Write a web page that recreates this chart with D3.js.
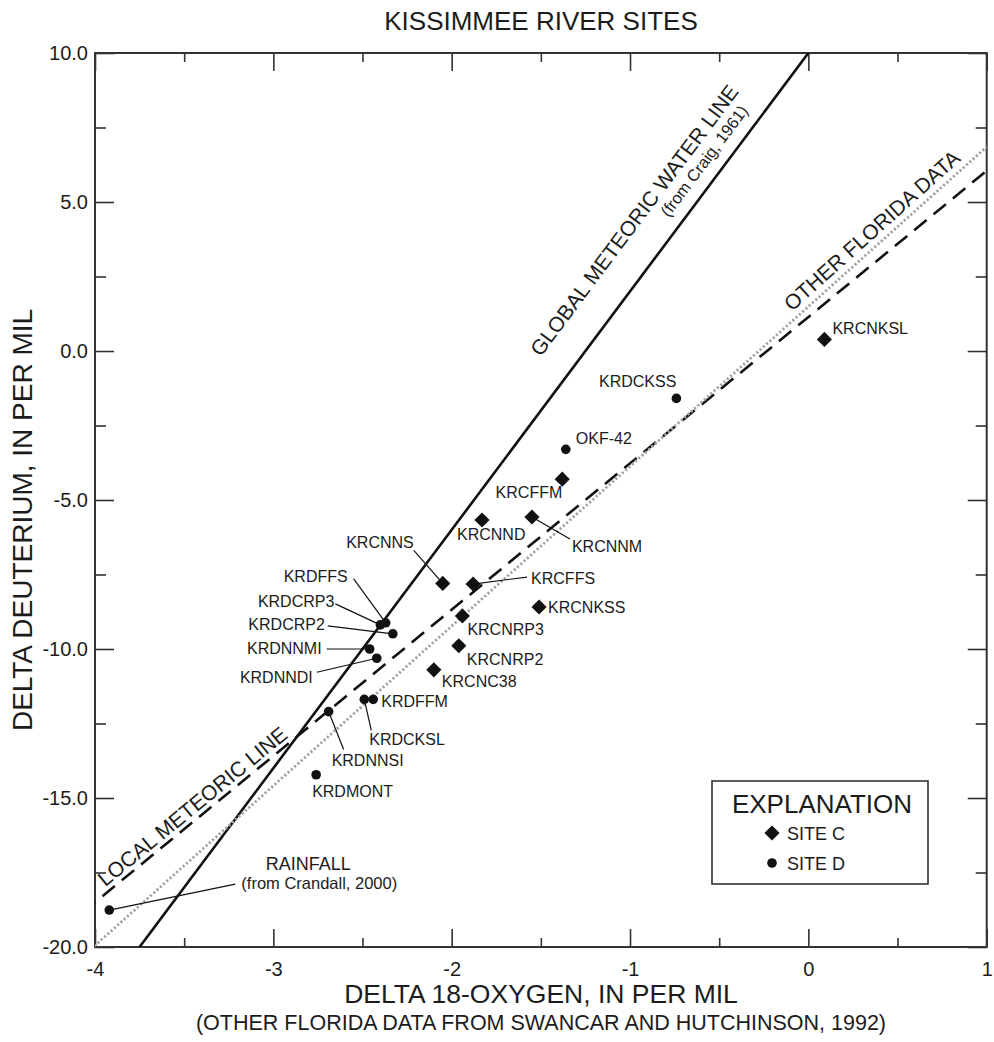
<!DOCTYPE html>
<html><head><meta charset="utf-8">
<script src="https://cdn.jsdelivr.net/npm/d3@7"></script>
<style>
body{margin:0;background:#fff;}
text{font-family:"Liberation Sans",Arial,Helvetica,sans-serif;fill:#1c1c1c;}
</style>
</head><body>
<svg id="chart" width="994" height="1042"></svg>
<script>
// ---------------- DATA ----------------
const siteCNames = ["KRCNKSL","KRCFFM","KRCNND","KRCNNM","KRCNNS","KRCFFS","KRCNKSS","KRCNRP3","KRCNRP2","KRCNC38"];
const siteCO18   = [0.09, -1.38, -1.83, -1.55, -2.05, -1.88, -1.51, -1.94, -1.96, -2.10];
const siteCD     = [0.39, -4.30, -5.67, -5.57, -7.80, -7.82, -8.59, -8.89, -9.89, -10.70];

const siteDNames = ["KRDCKSS","OKF-42","KRDFFS","KRDCRP3","KRDCRP2","KRDNNMI","KRDNNDI","KRDFFM","KRDCKSL","KRDNNSI","KRDMONT"];
const siteDO18   = [-0.74, -1.36, -2.37, -2.40, -2.33, -2.46, -2.42, -2.44, -2.49, -2.69, -2.76];
const siteDD     = [-1.59, -3.30, -9.12, -9.19, -9.49, -10.00, -10.31, -11.69, -11.69, -12.10, -14.22];

const rainfallO18 = [-3.92];
const rainfallD   = [-18.76];

const lineNames      = ["GLOBAL METEORIC WATER LINE", "LOCAL METEORIC LINE", "OTHER FLORIDA DATA"];
const lineSlopes     = [8, 4.91, 5.36];
const lineIntercepts = [10, 1.14, 1.49];

const xTicks      = [-4, -3, -2, -1, 0, 1];
const xTickLabels = ["-4", "-3", "-2", "-1", "0", "1"];
const xMinorTicks = [-3.5, -2.5, -1.5, -0.5, 0.5];
const yTicks      = [10, 5, 0, -5, -10, -15, -20];
const yTickLabels = ["10.0", "5.0", "0.0", "-5.0", "-10.0", "-15.0", "-20.0"];
const yMinorTicks = [7.5, 2.5, -2.5, -7.5, -12.5, -17.5];

// ---------------- LAYOUT (label offsets in px from the point) ----------------
// [anchor, dx, dy, leaderDx, leaderDy]  (leader null = none)
const labelLayout = {
  KRCNKSL: ["start", 8, -5, null, null],
  KRCFFM:  ["end", 0, 19, null, null],
  KRCNND:  ["start", -25, 20, null, null],
  KRCNNM:  ["start", 40, 35, 38, 22],
  KRCNNS:  ["end", -29, -35, -29, -33],
  KRCFFS:  ["start", 58, 0, 54, -7],
  KRCNKSS: ["start", 9, 6, null, null],
  KRCNRP3: ["start", 5, 19, null, null],
  KRCNRP2: ["start", 8, 19, null, null],
  KRCNC38: ["start", 8, 17, null, null],
  KRDCKSS: ["end", 0, -11, null, null],
  "OKF-42":["start", 10, -5, null, null],
  KRDFFS:  ["end", -38, -41, -32, -44],
  KRDCRP3: ["end", -46, -18, -45, -21],
  KRDCRP2: ["end", -68, -4, -65, -8],
  KRDNNMI: ["end", -48, 5, -43, 0],
  KRDNNDI: ["end", -64, 25, -60, 14],
  KRDFFM:  ["start", 8, 8, null, null],
  KRDCKSL: ["start", 5, 46, 7, 31],
  KRDNNSI: ["start", 3, 54, 15, 38],
  KRDMONT: ["start", -4, 22, null, null]
};

// ---------------- SCALES ----------------
const svg = d3.select("#chart");
const x = d3.scaleLinear().domain([-4, 1]).range([95, 986.7]);
const y = d3.scaleLinear().domain([-20, 10]).range([947, 53]);
const X0 = x.range()[0], X1 = x.range()[1], Y0 = y.range()[1], Y1 = y.range()[0];

svg.append("defs").append("clipPath").attr("id","plotclip")
  .append("rect").attr("x",X0).attr("y",Y0).attr("width",X1-X0).attr("height",Y1-Y0);

// ---------------- TITLES ----------------
svg.append("text").attr("x",541).attr("y",30).attr("text-anchor","middle")
  .style("font-size","26px").text("KISSIMMEE RIVER SITES");
svg.append("text").attr("x",541).attr("y",1003).attr("text-anchor","middle")
  .style("font-size","26.5px").text("DELTA 18-OXYGEN, IN PER MIL");
svg.append("text").attr("x",541).attr("y",1030).attr("text-anchor","middle")
  .style("font-size","21.5px").text("(OTHER FLORIDA DATA FROM SWANCAR AND HUTCHINSON, 1992)");
svg.append("text").attr("transform","translate(32,520) rotate(-90)").attr("text-anchor","middle")
  .style("font-size","28px").text("DELTA DEUTERIUM, IN PER MIL");

// ---------------- AXES ----------------
function styleAxis(g){
  g.select(".domain").remove();
  g.selectAll(".tick line").attr("stroke","#333").attr("stroke-width",1.6);
  g.selectAll(".tick text").style("font-size","20px").attr("fill","#1c1c1c");
}
svg.append("g").attr("transform",`translate(0,${Y1})`)
  .call(d3.axisBottom(x).tickValues(xTicks).tickSize(-18).tickPadding(14.5).tickFormat((d,i)=>xTickLabels[i]))
  .call(styleAxis);
svg.append("g").attr("transform",`translate(0,${Y1})`)
  .call(d3.axisBottom(x).tickValues(xMinorTicks).tickSize(-9).tickFormat(""))
  .call(styleAxis);
svg.append("g").attr("transform",`translate(0,${Y0})`)
  .call(d3.axisTop(x).tickValues(xTicks).tickSize(-18).tickFormat(""))
  .call(styleAxis);
svg.append("g").attr("transform",`translate(0,${Y0})`)
  .call(d3.axisTop(x).tickValues(xMinorTicks).tickSize(-9).tickFormat(""))
  .call(styleAxis);
svg.append("g").attr("transform",`translate(${X0},0)`)
  .call(d3.axisLeft(y).tickValues(yTicks).tickSize(-19).tickPadding(7).tickFormat((d,i)=>yTickLabels[i]))
  .call(styleAxis);
svg.append("g").attr("transform",`translate(${X0},0)`)
  .call(d3.axisLeft(y).tickValues(yMinorTicks).tickSize(-11).tickFormat(""))
  .call(styleAxis);
svg.append("g").attr("transform",`translate(${X1},0)`)
  .call(d3.axisRight(y).tickValues(yTicks).tickSize(-19).tickFormat(""))
  .call(styleAxis);
svg.append("g").attr("transform",`translate(${X1},0)`)
  .call(d3.axisRight(y).tickValues(yMinorTicks).tickSize(-11).tickFormat(""))
  .call(styleAxis);

svg.append("rect").attr("x",X0).attr("y",Y0).attr("width",X1-X0).attr("height",Y1-Y0)
  .attr("fill","none").attr("stroke","#333").attr("stroke-width",2);

// ---------------- REGRESSION LINES ----------------
const lineStyles = [
  {stroke:"#111", width:2.6, dash:null},
  {stroke:"#111", width:2.6, dash:"16,9"},
  {stroke:"#a3a3a3", width:2.8, dash:"2.2,2.2"}
];
const lineGen = d3.line().x(d=>x(d[0])).y(d=>y(d[1]));
const gl = svg.append("g").attr("clip-path","url(#plotclip)");
lineNames.forEach((n,i)=>{
  const pts = [-4.5, 1.5].map(v=>[v, lineSlopes[i]*v + lineIntercepts[i]]);
  gl.append("path").attr("d",lineGen(pts)).attr("fill","none")
    .attr("stroke",lineStyles[i].stroke).attr("stroke-width",lineStyles[i].width)
    .attr("stroke-dasharray",lineStyles[i].dash);
});

// labels along lines
function onLine(i, xd){
  const px = x(xd), py = y(lineSlopes[i]*xd + lineIntercepts[i]);
  const ang = Math.atan2(y(lineSlopes[i]*(xd+1)+lineIntercepts[i]) - py, x(xd+1)-px)*180/Math.PI;
  return `translate(${px},${py}) rotate(${ang})`;
}
const lineLabelPos = [ [-0.80, 32, "21px"], [-3.41, 5, "21px"], [0.41, 7, "21px"] ];
lineNames.forEach((n,i)=>{
  svg.append("text").attr("transform",onLine(i,lineLabelPos[i][0]))
    .attr("y",-lineLabelPos[i][1]).attr("text-anchor","middle")
    .style("font-size",lineLabelPos[i][2]).text(n);
});
svg.append("text").attr("transform",onLine(0,-0.50)).attr("y",-13).attr("text-anchor","middle")
  .style("font-size","16.5px").text("(from Craig, 1961)");

// ---------------- POINTS ----------------
const siteC = siteCNames.map((n,i)=>({name:n, o:siteCO18[i], d:siteCD[i]}));
const siteD = siteDNames.map((n,i)=>({name:n, o:siteDO18[i], d:siteDD[i]}));
const rain  = rainfallO18.map((o,i)=>({name:"RAINFALL", o:o, d:rainfallD[i]}));

const gLead = svg.append("g");
const gPts = svg.append("g");
const gLab = svg.append("g");

function drawLabels(data){
  data.forEach(p=>{
    const L = labelLayout[p.name];
    const px = x(p.o), py = y(p.d);
    gLab.append("text").attr("x",px+L[1]).attr("y",py+L[2]).attr("text-anchor",L[0])
      .style("font-size","16px").text(p.name);
    if (L[3] !== null){
      gLead.append("line").attr("x1",px+L[3]).attr("y1",py+L[4]).attr("x2",px).attr("y2",py)
        .attr("stroke","#111").attr("stroke-width",1.2);
    }
  });
}
drawLabels(siteC); drawLabels(siteD);

const diamond = d3.symbol().type(d3.symbolSquare).size(115);
gPts.selectAll("path.c").data(siteC).join("path").attr("class","c")
  .attr("d",diamond).attr("transform",d=>`translate(${x(d.o)},${y(d.d)}) rotate(45)`).attr("fill","#111");
gPts.selectAll("circle.d").data(siteD.concat(rain)).join("circle").attr("class","d")
  .attr("cx",d=>x(d.o)).attr("cy",d=>y(d.d)).attr("r",4.8).attr("fill","#111");

// rainfall label
rain.forEach(p=>{
  const px = x(p.o), py = y(p.d);
  gLead.append("line").attr("x1",px).attr("y1",py).attr("x2",px+126).attr("y2",py-26)
    .attr("stroke","#111").attr("stroke-width",1.2);
  gLab.append("text").attr("x",px+199).attr("y",py-40).attr("text-anchor","middle")
    .style("font-size","18px").text("RAINFALL");
  gLab.append("text").attr("x",px+210).attr("y",py-21).attr("text-anchor","middle")
    .style("font-size","16.5px").text("(from Crandall, 2000)");
});

// ---------------- LEGEND ----------------
const lg = svg.append("g").attr("transform","translate(712,781)");
lg.append("rect").attr("width",216).attr("height",103).attr("fill","#fff")
  .attr("stroke","#333").attr("stroke-width",1.6);
lg.append("text").attr("x",110).attr("y",32).attr("text-anchor","middle")
  .style("font-size","26px").text("EXPLANATION");
lg.append("path").attr("d",diamond).attr("transform","translate(60,52) rotate(45)").attr("fill","#111");
lg.append("text").attr("x",75).attr("y",58.5).style("font-size","18px").text("SITE C");
lg.append("circle").attr("cx",60).attr("cy",82).attr("r",4.8).attr("fill","#111");
lg.append("text").attr("x",75).attr("y",89).style("font-size","18px").text("SITE D");
</script>
</body></html>
